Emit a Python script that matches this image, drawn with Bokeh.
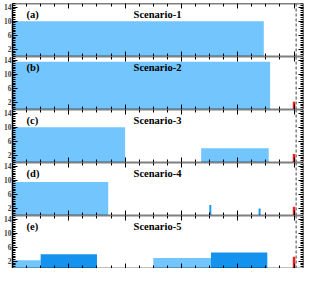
import numpy as np
from bokeh.plotting import figure
from bokeh.layouts import column
from bokeh.models import FixedTicker, Span, LinearAxis, Range1d
from bokeh.embed import file_html
from bokeh.resources import INLINE
from bokeh.core.properties import value

# ---------------- data ----------------
panel_tags = ["(a)", "(b)", "(c)", "(d)", "(e)"]
scenario_names = ["Scenario-1", "Scenario-2", "Scenario-3", "Scenario-4", "Scenario-5"]

block_start = [[0], [0], [0, 13.4], [0], [0, 2, 10, 14.1]]
block_end = [[17.85], [18.3], [8, 18.2], [6.8], [2, 6, 14.1, 18.1]]
block_height = [[10], [13.5], [10, 4], [9.5], [2.3, 4, 3, 4.5]]
block_shade = [["light"], ["light"], ["light", "light"], ["light"],
               ["light", "dark", "light", "dark"]]

spike_x = [[], [], [], [14.05, 17.55], []]
spike_h = [[], [], [], [3, 2], []]

red_x = [[], [20.0], [20.0], [20.0], [20.0]]
red_h = [[], [2.2], [2.4], [2.5], [3.3]]

y_ticks = [2, 6, 10, 14]
x_ticks = [0, 4, 8, 12, 16, 20]
x_max = 20.67
y_max = 15
dashed_x = 20.15

# ---------------- style ----------------
shade_colors = {"light": "#72c5fd", "dark": "#1492ee"}
spike_color = "#1a98f0"
red_color = "#ff1a1a"
serif = value("Liberation Serif")
frame_heights = [53, 53, 53, 53, 53]
frame_w = 295
left_b = 8
right_b = 2
top_b = 3


def mk_axis(ticks, minor, labels, fixed=None, flip=False):
    ax = LinearAxis(ticker=FixedTicker(ticks=ticks, minor_ticks=minor))
    ax.axis_line_width = 1.5
    ax.axis_line_color = "black"
    tin, tout = (0, 5) if flip else (5, 0)
    min_in, min_out = (0, 3) if flip else (3, 0)
    ax.major_tick_in = tin
    ax.major_tick_out = tout
    ax.minor_tick_in = min_in
    ax.minor_tick_out = min_out
    ax.major_tick_line_width = 1
    ax.minor_tick_line_width = 1
    if labels:
        ax.major_label_text_font = "Liberation Serif"
        ax.major_label_text_font_style = "bold"
        ax.major_label_text_font_size = "7.5px"
        ax.major_label_standoff = 1
    else:
        ax.major_label_overrides = {t: "" for t in ticks}
        ax.major_label_standoff = 0
    if fixed is not None:
        ax.fixed_location = fixed
    return ax


figs = []
for i in range(5):
    tb = top_b if i == 0 else 0
    p = figure(width=left_b + frame_w + right_b, height=frame_heights[i] + tb,
               x_range=Range1d(0, x_max), y_range=Range1d(0, y_max),
               output_backend="svg", toolbar_location=None,
               x_axis_location=None, y_axis_location=None,
               min_border_left=left_b, min_border_right=right_b,
               min_border_top=tb, min_border_bottom=0)
    p.grid.visible = False
    p.outline_line_color = None
    p.background_fill_color = "white"

    ymin = list(np.arange(0, y_max + 0.01, 0.5))
    xmin = list(range(0, 21))
    p.add_layout(mk_axis(y_ticks, ymin, True), "left")
    # right-hand frame edge: a second y axis pinned at the right end of the x range
    p.add_layout(mk_axis(y_ticks, ymin, False, fixed=x_max, flip=True), "left")
    p.add_layout(mk_axis(x_ticks, xmin, False, fixed=0), "below")
    p.add_layout(mk_axis(x_ticks, xmin, False, fixed=y_max), "above")

    p.quad(left=block_start[i], right=block_end[i], bottom=0, top=block_height[i],
           color=[shade_colors[s] for s in block_shade[i]], line_color=None)
    if spike_x[i]:
        p.vbar(x=spike_x[i], top=spike_h[i], width=0.14, bottom=0,
               color=spike_color, line_color=None)
    if red_x[i]:
        p.vbar(x=red_x[i], top=red_h[i], width=0.18, bottom=0,
               color=red_color, line_color=None)

    p.add_layout(Span(location=dashed_x, dimension="height", line_color="#808080",
                      line_dash="3 2", line_width=1.5))

    p.text(x=[1.0], y=[12.0], text=[panel_tags[i]], text_font=serif,
           text_font_style="bold", text_font_size="10.5px", text_baseline="middle",
           text_color="black")
    p.text(x=[10.3], y=[12.0], text=[scenario_names[i]], text_font=serif,
           text_font_style="bold", text_font_size="10.5px", text_baseline="middle",
           text_align="center", text_color="black")
    figs.append(p)

layout = column(*figs, spacing=0)
open("out.html", "w").write(file_html(layout, INLINE))
